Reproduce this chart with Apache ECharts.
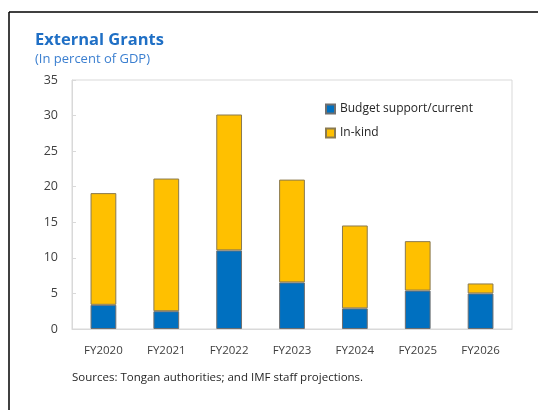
<!DOCTYPE html>
<html>
<head>
<meta charset="utf-8">
<script src="https://cdn.jsdelivr.net/npm/echarts@6/dist/echarts.min.js"></script>
<style>
  html, body { margin: 0; padding: 0; background: #fff; }
  #chart { width: 538px; height: 410px; }
</style>
</head>
<body>
<div id="chart"></div>
<script>
const years = ["FY2020", "FY2021", "FY2022", "FY2023", "FY2024", "FY2025", "FY2026"];
const budgetSupport = [3.4, 2.5, 11.05, 6.55, 2.9, 5.4, 5.0];
const inKind = [15.7, 18.65, 19.1, 14.45, 11.65, 6.95, 1.4];

const font = "'Open Sans', 'Noto Sans', sans-serif";
const textGray = "#404040";

const chart = echarts.init(document.getElementById("chart"));

chart.setOption({
  animation: false,
  textStyle: { fontFamily: font },
  graphic: [
    // frame lines of the clipped figure box
    { type: "line", shape: { x1: 9, y1: 12, x2: 538, y2: 12 }, style: { stroke: "#000", lineWidth: 1.5 } },
    { type: "line", shape: { x1: 9, y1: 12, x2: 9, y2: 410 }, style: { stroke: "#000", lineWidth: 1.5 } },
    {
      type: "text", left: 35, top: 32,
      style: { text: "External Grants", fill: "#1f6fc5", font: "bold 16.5px " + font }
    },
    {
      type: "text", left: 35, top: 53,
      style: { text: "(In percent of GDP)", fill: "#3b7fd0", font: "13px " + font }
    },
    {
      type: "text", left: 72, top: 372,
      style: { text: "Sources: Tongan authorities; and IMF staff projections.", fill: "#262626", font: "11.5px " + font }
    }
  ],
  grid: {
    left: 72, top: 80, right: 26, bottom: 81,
    show: true, borderColor: "#d9d9d9", borderWidth: 1
  },
  legend: {
    orient: "vertical",
    left: 320, top: 98,
    icon: "rect",
    itemWidth: 9, itemHeight: 9, itemGap: 12,
    textStyle: { fontSize: 12, color: "#262626", fontFamily: font },
    data: ["Budget support/current", "In-kind"]
  },
  xAxis: {
    type: "category",
    data: years,
    axisLine: { lineStyle: { color: "#d9d9d9" } },
    axisTick: { inside: true, length: 4, lineStyle: { color: "#d9d9d9" } },
    axisLabel: { color: textGray, fontSize: 11.5, margin: 16, fontFamily: font }
  },
  yAxis: {
    type: "value",
    min: 0, max: 35, interval: 5,
    splitLine: { show: false },
    axisLine: { show: true, lineStyle: { color: "#d9d9d9" } },
    axisTick: { show: true, inside: true, length: 4, lineStyle: { color: "#d9d9d9" } },
    axisLabel: { color: textGray, fontSize: 12.5, margin: 14, fontFamily: font }
  },
  series: [
    {
      name: "Budget support/current",
      type: "bar",
      stack: "grants",
      barWidth: "41%",
      data: budgetSupport,
      itemStyle: { color: "#0070c0", borderColor: "#6f6f6f", borderWidth: 1 }
    },
    {
      name: "In-kind",
      type: "bar",
      stack: "grants",
      barWidth: "41%",
      data: inKind,
      itemStyle: { color: "#ffc000", borderColor: "#8a7a50", borderWidth: 1 }
    }
  ]
});

window.addEventListener("resize", () => chart.resize());
</script>
</body>
</html>
